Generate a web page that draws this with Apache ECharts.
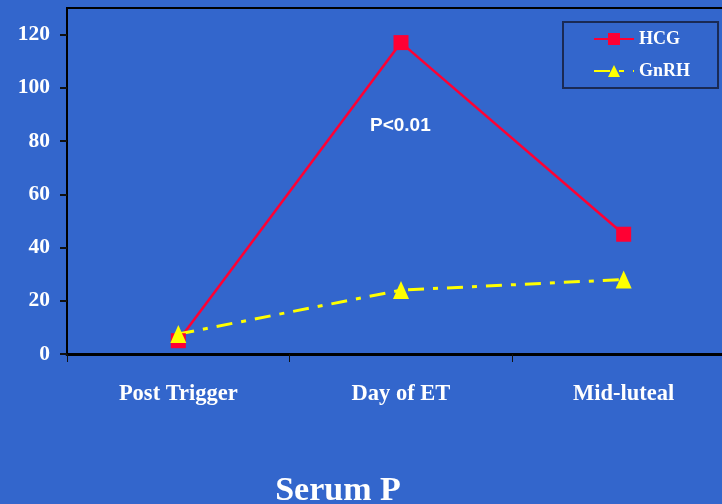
<!DOCTYPE html>
<html>
<head>
<meta charset="utf-8">
<script src="https://cdn.jsdelivr.net/npm/echarts@6/dist/echarts.min.js"></script>
<style>html,body{margin:0;padding:0;background:#3366CC;}#c{width:722px;height:504px;}</style>
</head>
<body>
<div id="c"></div>
<script>
const categories = ['Post Trigger', 'Day of ET', 'Mid-luteal'];
const hcgValues = [5, 117, 45];
const gnrhValues = [7.5, 24, 28];
const yTicks = [0, 20, 40, 60, 80, 100, 120];
const annotation = 'P<0.01';
const titleText = 'Serum P';

const chart = echarts.init(document.getElementById('c'));
const serif = '"Liberation Serif", "DejaVu Serif", serif';
chart.setOption({
  backgroundColor: '#3366CC',
  animation: false,
  title: {
    text: titleText,
    left: 333, top: 469, textAlign: 'center',
    textStyle: { color: '#fff', fontFamily: serif, fontWeight: 'bold', fontSize: 34 }
  },
  graphic: [{
    type: 'text', left: 370, top: 116,
    style: { text: annotation, fill: '#fff', font: 'bold 19px "Liberation Sans", Arial, sans-serif' }
  }],
  legend: {
    orient: 'vertical', left: 563, top: 22,
    padding: [8, 28, 8, 30], itemGap: 14,
    itemWidth: 40, itemHeight: 15,
    borderColor: '#1a2a55', borderWidth: 2,
    textStyle: { color: '#fff', fontFamily: serif, fontWeight: 'bold', fontSize: 18 },
    data: ['HCG', 'GnRH']
  },
  grid: {
    left: 67, top: 8, width: 668, bottom: 150,
    outerBoundsMode: 'none', containLabel: false,
    show: true, borderColor: '#000', borderWidth: 2, backgroundColor: 'transparent'
  },
  xAxis: {
    type: 'category', data: categories, boundaryGap: true,
    axisLine: { lineStyle: { color: '#000', width: 3 } },
    axisTick: { show: true, length: 8, lineStyle: { color: '#111', width: 1 } },
    axisLabel: { color: '#fff', fontFamily: serif, fontWeight: 'bold', fontSize: 22.5, margin: 29 }
  },
  yAxis: {
    type: 'value', min: 0, max: 130, interval: 20,
    axisLine: { show: true, lineStyle: { color: '#000', width: 2 } },
    axisTick: { show: true, length: 7, customValues: yTicks, lineStyle: { color: '#111', width: 2 } },
    axisLabel: { color: '#fff', fontFamily: serif, fontWeight: 'bold', fontSize: 21.5, margin: 17, customValues: yTicks },
    splitLine: { show: false }
  },
  series: [
    {
      name: 'HCG', type: 'line', data: hcgValues,
      symbol: 'rect', symbolSize: 15,
      itemStyle: { color: '#FF0033' },
      lineStyle: { color: '#FF0033', width: 2.5 }
    },
    {
      name: 'GnRH', type: 'line', data: gnrhValues,
      symbol: 'triangle', symbolSize: [16, 18],
      itemStyle: { color: '#FFFF00' },
      lineStyle: { color: '#FFFF00', width: 3, type: [16, 9, 5, 9] }
    }
  ]
});
</script>
</body>
</html>
